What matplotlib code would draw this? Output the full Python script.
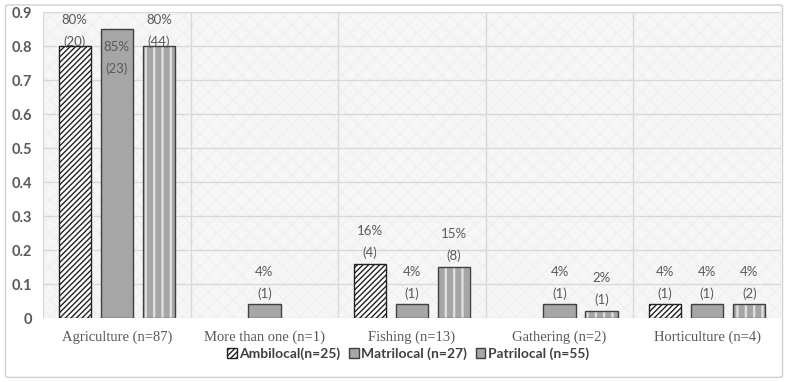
import numpy as np
import matplotlib.pyplot as plt
from matplotlib.patches import FancyBboxPatch, Patch

# Datos
categorias = ['Agriculture (n=87)', 'More than one (n=1)', 'Fishing (n=13)',
              'Gathering (n=2)', 'Horticulture (n=4)']
series = ['Ambilocal(n=25)', 'Matrilocal (n=27)', 'Patrilocal (n=55)']
ambilocal = [0.80, 0.00, 0.16, 0.00, 0.04]
matrilocal = [0.85, 0.04, 0.04, 0.04, 0.04]
patrilocal = [0.80, 0.00, 0.15, 0.02, 0.04]
n_ambilocal = [20, 0, 4, 0, 1]
n_matrilocal = [23, 1, 1, 1, 1]
n_patrilocal = [44, 0, 8, 1, 2]

gris = '#a6a6a6'
texto = '#595959'
fuente = 'Lato'
plt.rcParams['hatch.linewidth'] = 1.0

fig = plt.figure(figsize=(7.88, 3.82), dpi=100)
fig.patch.set_facecolor('white')
fig.patches.append(FancyBboxPatch((0.007, 0.012), 0.986, 0.975,
                                  boxstyle='round,pad=0,rounding_size=0.004',
                                  transform=fig.transFigure, facecolor='none',
                                  edgecolor='#d0d0d0', linewidth=1.0))

ax = fig.add_axes([0.0546, 0.1675, 0.9365, 0.801])
ax.patch.set_facecolor('#f6f6f6')
ax.patch.set_edgecolor('#f0f0f0')
ax.patch.set_hatch('xx')
ax.patch.set_linewidth(0)

x = np.arange(len(categorias))
ancho = 0.22
paso = 0.285


def bordes(valores):
    # sin borde para las barras de valor cero
    return [1.0 if v > 0 else 0 for v in valores]


# Ambilocal: rayado diagonal
b1 = ax.bar(x - paso, ambilocal, ancho, color='white', edgecolor='#222222',
            hatch='//////', linewidth=bordes(ambilocal), zorder=3)
# Matrilocal: gris liso
b2 = ax.bar(x, matrilocal, ancho, color=gris, edgecolor='#404040',
            linewidth=bordes(matrilocal), zorder=3)
# Patrilocal: gris con franjas verticales claras
with plt.rc_context({'hatch.linewidth': 1.6}):
    ax.bar(x + paso, patrilocal, ancho, color=gris, edgecolor='#e2e2e2',
           hatch='||', linewidth=0, zorder=3)
b3 = ax.bar(x + paso, patrilocal, ancho, color='none', edgecolor='#404040',
            linewidth=bordes(patrilocal), zorder=4)


def etiquetas(barras, valores, cuentas):
    for rect, v, c in zip(barras, valores, cuentas):
        if v == 0:
            continue
        xc = rect.get_x() + rect.get_width() / 2
        txt = f'{v:.0%}\n({c})'
        kw = dict(ha='center', fontsize=9.5, color=texto, linespacing=1.9,
                  zorder=5, family=fuente)
        if v > 0.82:
            # dentro de la barra, junto al extremo
            ax.text(xc, v - 0.035, txt, va='top', **kw)
        elif v + 0.12 > 0.9:
            ax.text(xc, 0.893, txt, va='top', **kw)
        else:
            ax.text(xc, v + 0.014, txt, va='bottom', **kw)


etiquetas(b1, ambilocal, n_ambilocal)
etiquetas(b2, matrilocal, n_matrilocal)
etiquetas(b3, patrilocal, n_patrilocal)

ax.set_ylim(0, 0.9)
ax.set_xlim(-0.5, len(categorias) - 0.5)
ax.set_yticks(np.arange(0, 0.91, 0.1))
ax.set_yticklabels(['0'] + [f'{t:.1f}' for t in np.arange(0.1, 0.91, 0.1)],
                   fontsize=10.5, color=texto, fontweight='bold', family=fuente)
ax.set_xticks(x)
ax.set_xticklabels(categorias, fontsize=10.5, color=texto,
                   family='Liberation Serif')
ax.set_xticks(np.arange(-0.5, len(categorias), 1), minor=True)
ax.tick_params(axis='both', which='both', length=0)
ax.tick_params(axis='x', pad=9)
ax.tick_params(axis='y', pad=8)
ax.grid(axis='y', color='#d9d9d9', linewidth=1.0, zorder=0)
ax.grid(axis='x', which='minor', color='#d9d9d9', linewidth=1.0, zorder=0)
ax.set_axisbelow(True)
for s in ax.spines.values():
    s.set_visible(False)

handles = [
    Patch(facecolor='white', edgecolor='#222222', hatch='//////'),
    Patch(facecolor=gris, edgecolor='#404040'),
    Patch(facecolor=gris, edgecolor='#404040', hatch='|'),
]
leg = fig.legend(handles, series, loc='center', bbox_to_anchor=(0.518, 0.074),
                 ncol=3, frameon=False, handlelength=0.7, handleheight=0.7,
                 handletextpad=0.2, columnspacing=0.6,
                 prop={'size': 10, 'weight': 'bold', 'family': fuente})
for t in leg.get_texts():
    t.set_color('#404040')

fig.savefig('out.png', dpi=100)
